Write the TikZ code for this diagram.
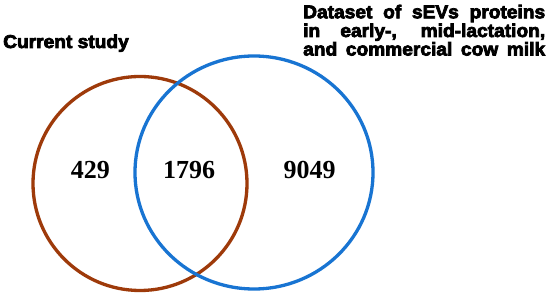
\documentclass[tikz,border=0pt]{standalone}
\usepackage{fontspec}
\newfontfamily\labfont[FakeStretch=1.03,FakeBold=4]{Liberation Sans Bold}
\newfontfamily\numfont{Liberation Serif Bold}
\definecolor{cbrown}{RGB}{158,58,10}
\definecolor{cblue}{RGB}{24,116,210}
\begin{document}
\begin{tikzpicture}[x=1pt,y=-1pt,
  lab/.style={font=\labfont\fontsize{18.6}{20}\selectfont,inner sep=0pt,anchor=base west},
  num/.style={font=\numfont\fontsize{26}{28}\selectfont,inner sep=0pt,anchor=base},
  ring/.style={line width=3.3pt}]
\useasboundingbox (0,0) rectangle (550,296);
\fill[white] (0,0) rectangle (550,296);
\draw[ring,cbrown] (140,183.5) circle[radius=107];
\draw[ring,cblue] (254,172.5) ellipse[x radius=119,y radius=116.5];
\node[lab] (cur) at (3,48) {Current study};
\node[lab] (d1) at (303,18.3) {\makebox[242pt][s]{Dataset of sEVs proteins}};
\node[lab] (d2) at (303,37) {\makebox[242pt][s]{in early-, mid-lactation,}};
\node[lab] (d3) at (303,55.5) {\makebox[242pt][s]{and commercial cow milk}};
\node[num] (n1) at (90.4,179) {429};
\node[num] (n2) at (189,179) {1796};
\node[num] (n3) at (309.5,179) {9049};
\end{tikzpicture}
\end{document}
